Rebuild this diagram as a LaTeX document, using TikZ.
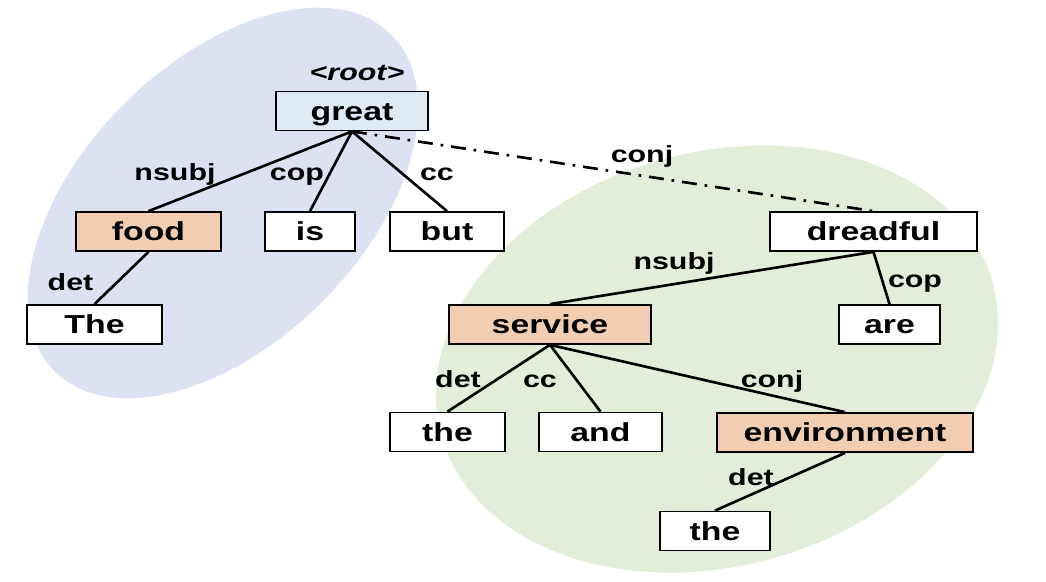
\documentclass[tikz,border=0pt]{standalone}
\usepackage{fontspec}
\setmainfont{Liberation Sans}[FakeStretch=1.3]
\definecolor{leftblob}{RGB}{220,226,241}
\definecolor{rightblob}{RGB}{226,238,218}
\definecolor{rootfill}{RGB}{222,235,247}
\definecolor{aspect}{RGB}{241,206,178}
\tikzset{
  word/.style={draw=black,line width=1pt,fill=white,inner sep=0pt,
    minimum height=0.78cm,text height=10.6pt,text depth=0pt,
    font=\fontsize{14.8}{17}\selectfont\bfseries},
  dep/.style={anchor=base,inner sep=0pt,font=\fontsize{13.3}{16}\selectfont\bfseries},
  arc/.style={line width=1.5pt},
}
\begin{document}
\begin{tikzpicture}[x=0.02cm,y=-0.02cm]
 \useasboundingbox (0,0) rectangle (1046,582);
 % the two clusters
 \fill[leftblob,rotate around={45:(223,203)}] (223,203) ellipse [x radius=238,y radius=140];
 \fill[rightblob,rotate around={15.5:(717,359)}] (717,359) ellipse [x radius=286,y radius=207];
 % words
 \node[word,fill=rootfill,minimum width=3.04cm] (great) at (352,111) {great};
 \node[word,fill=aspect,minimum width=2.9cm] (food) at (148.5,231.5) {food};
 \node[word,minimum width=1.8cm] (is) at (310,231.5) {is};
 \node[word,minimum width=2.28cm] (but) at (447,231.5) {but};
 \node[word,minimum width=2.7cm] (The) at (94.5,324.5) {The};
 \node[word,minimum width=4.14cm] (dreadful) at (873.5,231.5) {dreadful};
 \node[word,fill=aspect,minimum width=4.04cm] (service) at (550,324.5) {service};
 \node[word,minimum width=2.02cm] (are) at (889.5,324.5) {are};
 \node[word,minimum width=2.3cm] (the) at (447.5,432) {the};
 \node[word,minimum width=2.46cm] (and) at (600.5,432) {and};
 \node[word,fill=aspect,minimum width=5.12cm] (environment) at (845,432.5) {environment};
 \node[word,minimum width=2.2cm] (theenv) at (715,531) {the};
 % arcs
 \draw[arc] (great.south) -- (food.north);
 \draw[arc] (great.south) -- (is.north);
 \draw[arc] (great.south) -- (but.north);
 \draw[arc,dash pattern=on 8.5pt off 4.5pt on 1.5pt off 4.5pt] (great.south) -- (dreadful.north);
 \draw[arc] (food.south) -- (The.north);
 \draw[arc] (dreadful.south) -- (service.north);
 \draw[arc] (dreadful.south) -- (are.north);
 \draw[arc] (service.south) -- (the.north);
 \draw[arc] (service.south) -- (and.north);
 \draw[arc] (service.south) -- (environment.north);
 \draw[arc] (environment.south) -- (theenv.north);
 % labels
 \node[dep] (root) at (357,80) {\itshape<root>};
 \node[dep] (lnsubj) at (175,180) {nsubj};
 \node[dep] (lcop) at (297,180) {cop};
 \node[dep] (lcc) at (437,180) {cc};
 \node[dep] (ldet) at (70.5,290) {det};
 \node[dep] (lconj) at (642,162) {conj};
 \node[dep] (rnsubj) at (674,269) {nsubj};
 \node[dep] (rcop) at (915,287) {cop};
 \node[dep] (rdet) at (458,387) {det};
 \node[dep] (rcc) at (540,387) {cc};
 \node[dep] (rconj) at (772,387) {conj};
 \node[dep] (edet) at (751,485) {det};
\end{tikzpicture}
\end{document}
